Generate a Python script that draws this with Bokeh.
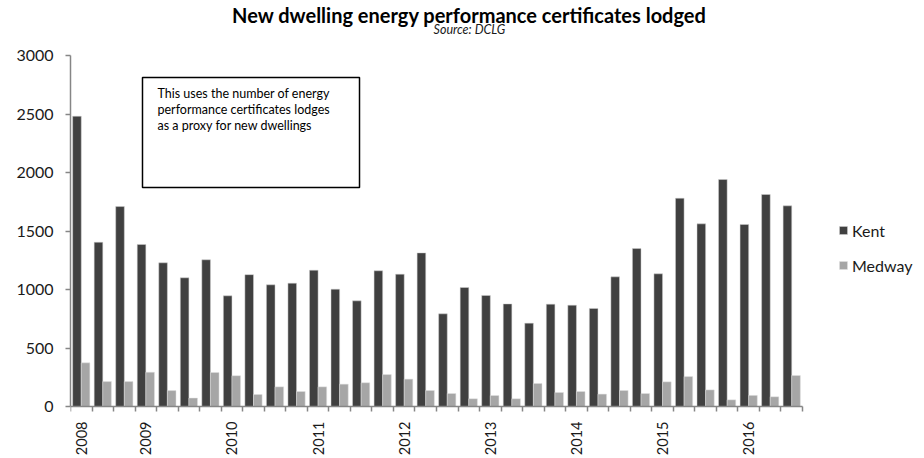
import math
import numpy as np
from bokeh.plotting import figure
from bokeh.models import (ColumnDataSource, Range1d, FixedTicker, Legend, LegendItem,
                          BoxAnnotation, Label)
from bokeh.embed import file_html
from bokeh.resources import INLINE

# ---------------- data ----------------
x_labels = ["2008", "", "", "2009", "", "", "", "2010", "", "", "", "2011", "", "", "",
            "2012", "", "", "", "2013", "", "", "", "2014", "", "", "", "2015", "", "", "",
            "2016", "", ""]
kent = [2481, 1404, 1709, 1385, 1228, 1100, 1254, 946, 1127, 1040, 1054, 1165, 1003, 903,
        1160, 1131, 1313, 792, 1017, 949, 877, 712, 875, 866, 838, 1108, 1350, 1134,
        1780, 1561, 1940, 1556, 1812, 1715]
medway = [373, 213, 213, 293, 136, 72, 291, 263, 103, 168, 128, 168, 191, 203,
          273, 234, 137, 111, 66, 94, 66, 197, 120, 128, 106, 137, 111, 211,
          256, 142, 57, 95, 83, 265]
y_ticks = [0, 500, 1000, 1500, 2000, 2500, 3000]
title = "New dwelling energy performance certificates lodged"
subtitle = "Source: DCLG"
note_lines = ["This uses the number of energy",
              "performance certificates lodges",
              "as a proxy for new dwellings"]

FONT = "Lato"
n = len(kent)
centers = np.arange(n) + 0.5
src = ColumnDataSource(dict(xk=centers - 0.2, xm=centers + 0.2, kent=kent, medway=medway))

W, H = 924, 458
LEFT = 70
p = figure(width=W, height=H, output_backend="svg", toolbar_location=None,
           x_range=Range1d(0, n * (W - LEFT) / 732),
           y_range=Range1d(-52 * 3000 / 351, 3000 + 55 * 3000 / 351),
           min_border_left=LEFT, min_border_right=0, min_border_top=0, min_border_bottom=0)
p.outline_line_color = None
p.xgrid.visible = False
p.ygrid.visible = False
p.background_fill_color = "white"
p.border_fill_color = "white"

rk = p.vbar(x="xk", top="kent", width=0.4, source=src, fill_color="#404040",
            line_color="#d0d0d0", line_width=0.5)
rm = p.vbar(x="xm", top="medway", width=0.4, source=src, fill_color="#a6a6a6",
            line_color="#e0e0e0", line_width=0.5)

# x axis
xa = p.xaxis[0]
xa.fixed_location = 0
xa.bounds = (0, n)
lab_pos = [float(c) for c, l in zip(centers, x_labels) if l]
xa.ticker = FixedTicker(ticks=lab_pos, minor_ticks=list(range(n + 1)))
xa.major_label_overrides = {float(c): l for c, l in zip(centers, x_labels) if l}
xa.major_tick_out = 0
xa.major_tick_in = 0
xa.minor_tick_out = 5
xa.minor_tick_in = 0
xa.minor_tick_line_color = "#868686"
xa.minor_tick_line_width = 1.5
xa.axis_line_color = "#868686"
xa.axis_line_width = 1.5
xa.major_label_orientation = math.pi / 2
xa.major_label_standoff = 10
xa.major_label_text_font = FONT
xa.major_label_text_font_size = "14.5px"
xa.major_label_text_color = "#1a1a1a"

# y axis
ya = p.yaxis[0]
ya.bounds = (0, 3000)
ya.ticker = FixedTicker(ticks=y_ticks)
ya.major_tick_out = 5
ya.major_tick_in = 0
ya.minor_tick_out = 0
ya.minor_tick_in = 0
ya.major_tick_line_color = "#868686"
ya.major_tick_line_width = 1.5
ya.axis_line_color = "#868686"
ya.axis_line_width = 1.5
ya.major_label_standoff = 12
ya.major_label_text_font = FONT
ya.major_label_text_font_size = "16px"
ya.major_label_text_color = "#1a1a1a"

# titles
p.add_layout(Label(x=18.53, y=3350, text=title, text_font=FONT, text_font_style="bold",
                   text_font_size="20px", text_align="center", text_baseline="alphabetic",
                   text_color="#000000"))
p.add_layout(Label(x=18.53, y=3222, text=subtitle, text_font=FONT, text_font_style="italic",
                   text_font_size="12.5px", text_align="center", text_baseline="alphabetic",
                   text_color="#1a1a1a"))

# note box
p.add_layout(BoxAnnotation(left=3.344, right=13.424, top=2812, bottom=1872,
                           fill_color="white", fill_alpha=1.0,
                           line_color="black", line_alpha=1.0, line_width=1.5))
for i, t in enumerate(note_lines):
    p.add_layout(Label(x=4.04, y=2671 - i * 135, text=t, text_font=FONT,
                       text_font_size="12.5px", text_color="#000000",
                       text_baseline="alphabetic"))

# legend
legend = Legend(items=[LegendItem(label="Kent", renderers=[rk]),
                       LegendItem(label="Medway", renderers=[rm])],
                location=(768, 183), padding=0, margin=0, spacing=15,
                glyph_width=10, glyph_height=10, label_standoff=4, label_height=20,
                label_text_font=FONT, label_text_font_size="16px",
                label_text_color="#1a1a1a",
                background_fill_alpha=0, border_line_color=None)
p.add_layout(legend)

open("out.html", "w").write(file_html(p, INLINE))
